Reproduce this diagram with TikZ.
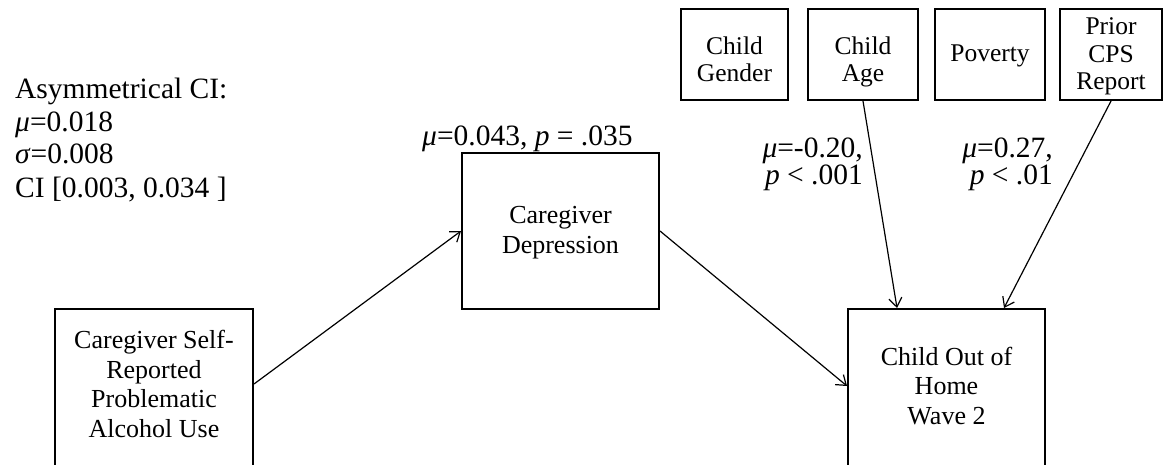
\documentclass[tikz,border=0pt]{standalone}
\usepackage{fontspec}
\setmainfont{Liberation Serif}
\usetikzlibrary{arrows.meta,calc}
\begin{document}
\begin{tikzpicture}[x=1pt,y=-1pt,
  box/.style={draw, line width=2pt, inner sep=0pt},
  boxtext/.style={align=center, font=\fontsize{26}{29.5}\selectfont, inner sep=0pt, anchor=base},
  covtext/.style={boxtext, font=\fontsize{25.5}{27.5}\selectfont},
  sidetext/.style={align=left, font=\fontsize{29.5}{33}\selectfont, inner sep=0pt},
  coeff/.style={align=right, font=\fontsize{29.5}{27}\selectfont, inner sep=0pt},
  path/.style={draw, line width=1.2pt, -{Straight Barb[length=9pt,width=13pt,line width=1.2pt]}}]
\clip (0,0) rectangle (1167,465);

% main boxes (the two lower ones run past the bottom edge)
\node[box, minimum width=198pt, minimum height=181pt] (A) at (154,399.5) {};
\node[box, minimum width=197pt, minimum height=156pt] (B) at (560.5,231) {};
\node[box, minimum width=197pt, minimum height=181pt] (C) at (946.5,399.5) {};

% texts are placed by the baseline of their last line
\node[boxtext] (At) at ($(A.north)+(0,129)$) {Caregiver Self-\\Reported\\Problematic\\Alcohol Use};
\node[boxtext] (Bt) at ($(B.north)+(0,101)$) {Caregiver\\Depression};
\node[boxtext] (Ct) at ($(C.north)+(0,116)$) {Child Out of\\Home\\Wave 2};

% covariate boxes
\node[box, minimum width=107pt, minimum height=91pt] (gender) at (734.5,54.5) {};
\node[box, minimum width=110pt, minimum height=91pt] (age) at (863,54.5) {};
\node[box, minimum width=110pt, minimum height=91pt] (pov) at (990,54.5) {};
\node[box, minimum width=102pt, minimum height=91pt] (prior) at (1111,54.5) {};

\node[covtext] (gendert) at ($(gender.north)+(0,74)$) {Child\\Gender};
\node[covtext] (aget) at ($(age.north)+(0,74)$) {Child\\Age};
\node[covtext] (povt) at ($(pov.north)+(0,54)$) {Poverty};
\node[covtext] (priort) at ($(prior.north)+(0,82)$) {Prior\\CPS\\Report};

% paths
\coordinate (Aout) at ($(A.north east)+(0,76)$);
\coordinate (Cin1) at ($(C.north west)+(0,78)$);
\coordinate (Cin2) at ($(C.north west)+(50,0)$);
\coordinate (Cin3) at ($(C.north west)+(157,0)$);
\draw[path] (Aout) -- (B.west);
\draw[path] (B.east) -- (Cin1);
\draw[path] (age.south) -- (Cin2);
\draw[path] (prior.south) -- (Cin3);

% estimates
\node[sidetext, anchor=base west] (ci) at (15,197) {Asymmetrical CI:\\\textit{μ}=0.018\\\textit{σ}=0.008\\CI [0.003, 0.034 ]};
\node[coeff, anchor=base west] (bc) at (422,146) {\textit{μ}=0.043, \textit{p} = .035};
\node[coeff, anchor=base east] (agec) at (863,185) {\textit{μ}=-0.20,\\\textit{p} < .001};
\node[coeff, anchor=base east] (priorc) at (1053,185) {\textit{μ}=0.27,\\\textit{p} < .01};
\end{tikzpicture}
\end{document}
